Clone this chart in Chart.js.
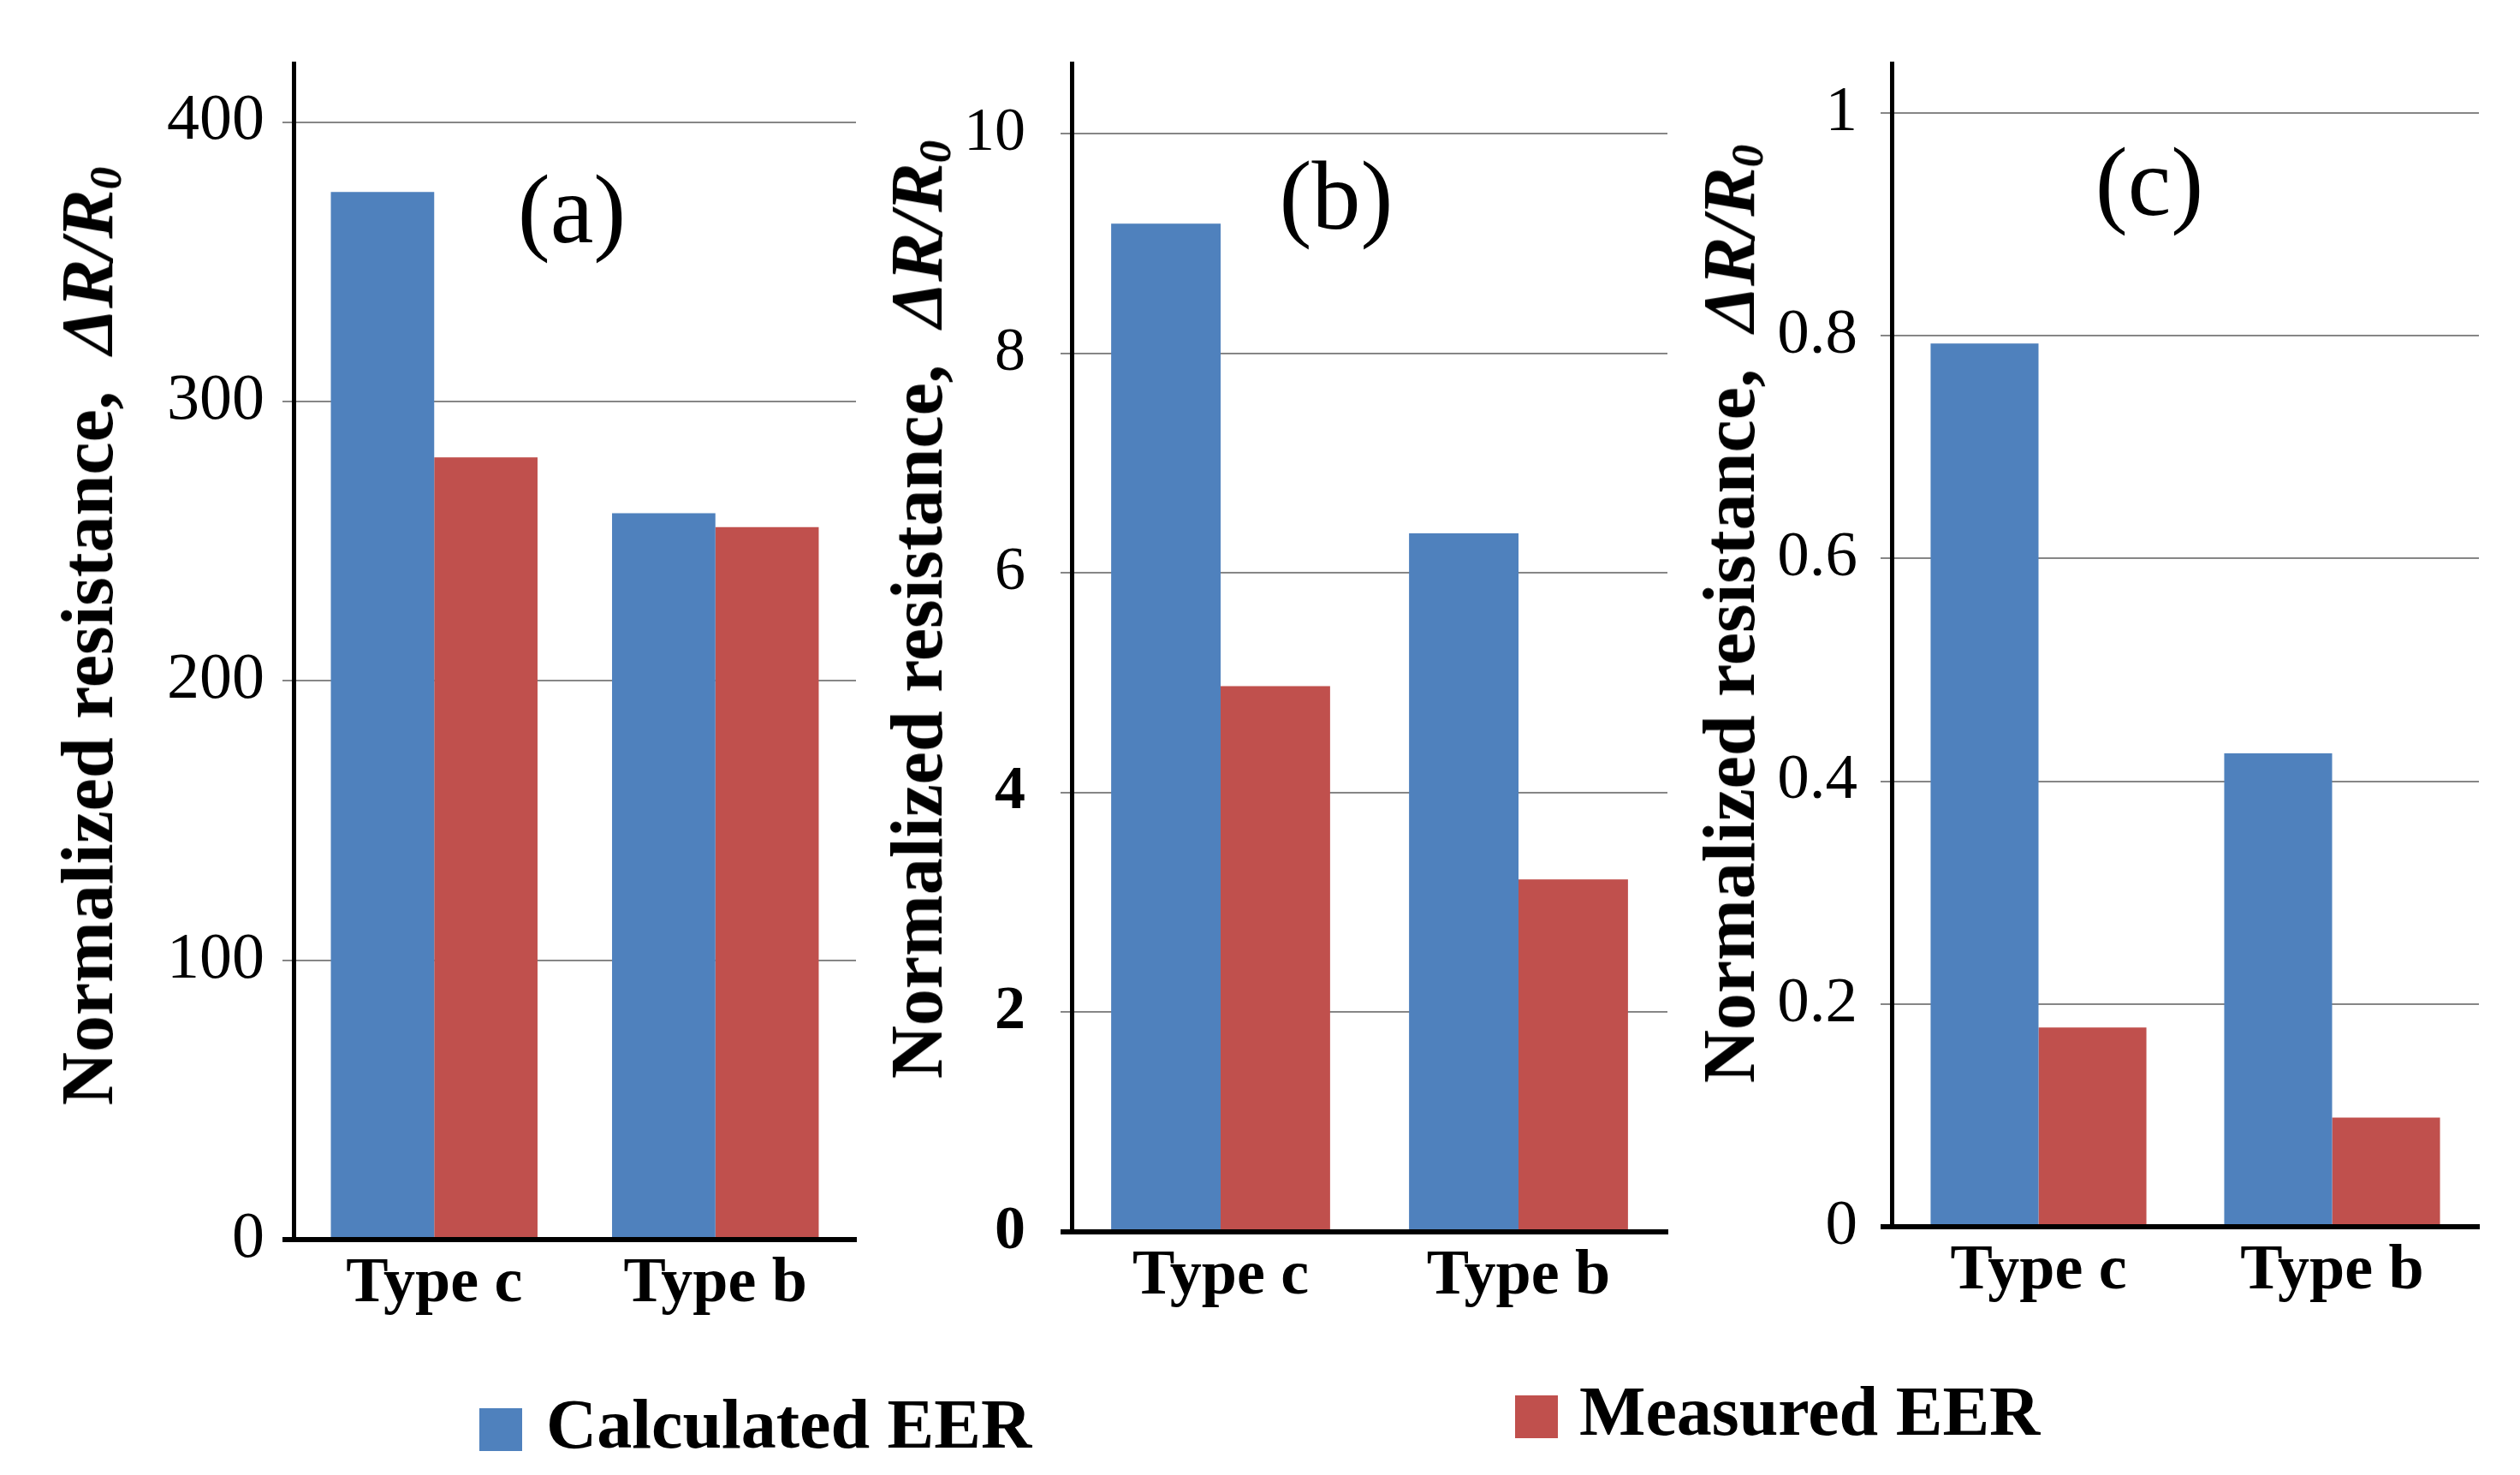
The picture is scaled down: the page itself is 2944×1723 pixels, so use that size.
<!DOCTYPE html>
<html><head><meta charset="utf-8">
<script src="https://cdn.jsdelivr.net/npm/chart.js@4.4.0/dist/chart.umd.min.js"></script>
<style>
html,body{margin:0;padding:0;background:#fff;}
#stage{position:relative;width:2944px;height:1723px;overflow:hidden;background:#fff;}
canvas{position:absolute;top:0;}
.ytitle{position:absolute;font-family:'Liberation Serif',serif;font-weight:bold;font-size:86px;white-space:nowrap;line-height:1;transform:translate(-50%,-50%) rotate(-90deg);color:#000;}
.ytitle sub{font-size:0.62em;vertical-align:-0.18em;line-height:0;}
.plabel{position:absolute;font-family:'Liberation Serif',serif;font-size:114px;line-height:1;transform:translate(-50%,-50%);color:#000;white-space:nowrap;}
.sq{position:absolute;width:50px;height:50px;}
.legtxt{position:absolute;font-family:'Liberation Serif',serif;font-weight:bold;font-size:82px;line-height:1;white-space:nowrap;color:#000;}
</style>
</head><body>
<div id="stage">
  <canvas id="ca" width="1010" height="1600" style="left:0px;width:1010px;height:1600px"></canvas>
  <canvas id="cb" width="950" height="1600" style="left:1010px;width:950px;height:1600px"></canvas>
  <canvas id="cc" width="984" height="1600" style="left:1960px;width:984px;height:1600px"></canvas>

  <div class="ytitle" style="left:102px;top:743px">Normalized resistance,&nbsp; <i>ΔR/R<sub>0</sub></i></div>
  <div class="ytitle" style="left:1071px;top:712px">Normalized resistance,&nbsp; <i>ΔR/R<sub>0</sub></i></div>
  <div class="ytitle" style="left:2020px;top:717px">Normalized resistance,&nbsp; <i>ΔR/R<sub>0</sub></i></div>

  <div class="plabel" style="left:668px;top:245px">(a)</div>
  <div class="plabel" style="left:1561px;top:229px">(b)</div>
  <div class="plabel" style="left:2511px;top:213px">(c)</div>

  <div class="sq" style="left:560px;top:1645px;background:#4F81BD"></div>
  <div class="legtxt" id="lg1" style="left:638px;top:1623px"></div>
  <div class="sq" style="left:1770px;top:1630px;background:#C0504D"></div>
  <div class="legtxt" id="lg2" style="left:1845px;top:1608px"></div>
</div>
<script>
// ---- data ----
const categories = ['Type c', 'Type b'];
const seriesNames = ['Calculated EER', 'Measured EER'];
const calcA = [375, 260];
const measA = [280, 255];
const calcB = [9.18, 6.36];
const measB = [4.97, 3.21];
const calcC = [0.793, 0.425];
const measC = [0.179, 0.098];
const ticksA = [0, 100, 200, 300, 400];
const ticksB = [0, 2, 4, 6, 8, 10];
const ticksC = [0, 0.2, 0.4, 0.6, 0.8, 1];
const maxA = 421, maxB = 10.64, maxC = 1.0446;

const BLUE = '#4F81BD', RED = '#C0504D', GRID = '#868686';
const SERIF = "'Liberation Serif', 'Times New Roman', serif";

document.getElementById('lg1').textContent = seriesNames[0];
document.getElementById('lg2').textContent = seriesNames[1];

function makeChart(id, calc, meas, yMax, tickVals, cfg) {
  new Chart(document.getElementById(id), {
    type: 'bar',
    data: {
      labels: categories,
      datasets: [
        { label: seriesNames[0], data: calc, backgroundColor: BLUE, borderWidth: 0,
          categoryPercentage: 0.735, barPercentage: 1.0 },
        { label: seriesNames[1], data: meas, backgroundColor: RED, borderWidth: 0,
          categoryPercentage: 0.735, barPercentage: 1.0 }
      ]
    },
    options: {
      responsive: false,
      animation: false,
      devicePixelRatio: 1,
      layout: { padding: { top: 74, right: cfg.padRight, left: 0, bottom: 0 } },
      plugins: { legend: { display: false }, tooltip: { enabled: false }, title: { display: false } },
      scales: {
        x: {
          grid: { display: false, drawTicks: false },
          border: { display: true, color: '#000', width: 6, z: 1 },
          ticks: { color: '#000', padding: cfg.xPad, maxRotation: 0,
                   font: { family: SERIF, size: 74, weight: 'bold' } },
          afterFit: s => { s.height = cfg.xHeight; s.paddingLeft = 0; s.paddingRight = 0; }
        },
        y: {
          min: 0, max: yMax,
          grid: {
            color: c => (c.tick && c.tick.value === 0) ? '#000' : GRID,
            lineWidth: c => (c.tick && c.tick.value === 0) ? 6 : 2,
            tickColor: c => (c.tick && c.tick.value === 0) ? '#000' : GRID,
            tickLength: 13, drawTicks: true
          },
          border: { display: true, color: '#000', width: 5 },
          ticks: {
            color: '#000', padding: cfg.yPad,
            font: cfg.yFont,
            callback: v => String(v)
          },
          afterBuildTicks: s => { s.ticks = tickVals.map(v => ({ value: v })); },
          afterFit: s => { s.width = cfg.yWidth; s.paddingTop = 0; s.paddingBottom = 0; }
        }
      }
    }
  });
}

makeChart('ca', calcA, measA, maxA, ticksA, {
  padRight: 10, xHeight: 152, yWidth: 343, yPad: 21, xPad: 8,
  yFont: { family: SERIF, size: 76, weight: 'normal' }
});
makeChart('cb', calcB, measB, maxB, ticksB, {
  padRight: 12, xHeight: 161, yWidth: 242, yPad: 41, xPad: 8,
  yFont: c => ({ family: SERIF, size: 72, weight: (c.tick && c.tick.value <= 4) ? 'bold' : 'normal' })
});
makeChart('cc', calcC, measC, maxC, ticksC, {
  padRight: 48, xHeight: 167, yWidth: 250, yPad: 27, xPad: 8,
  yFont: { family: SERIF, size: 75, weight: 'normal' }
});
</script>
</body></html>
